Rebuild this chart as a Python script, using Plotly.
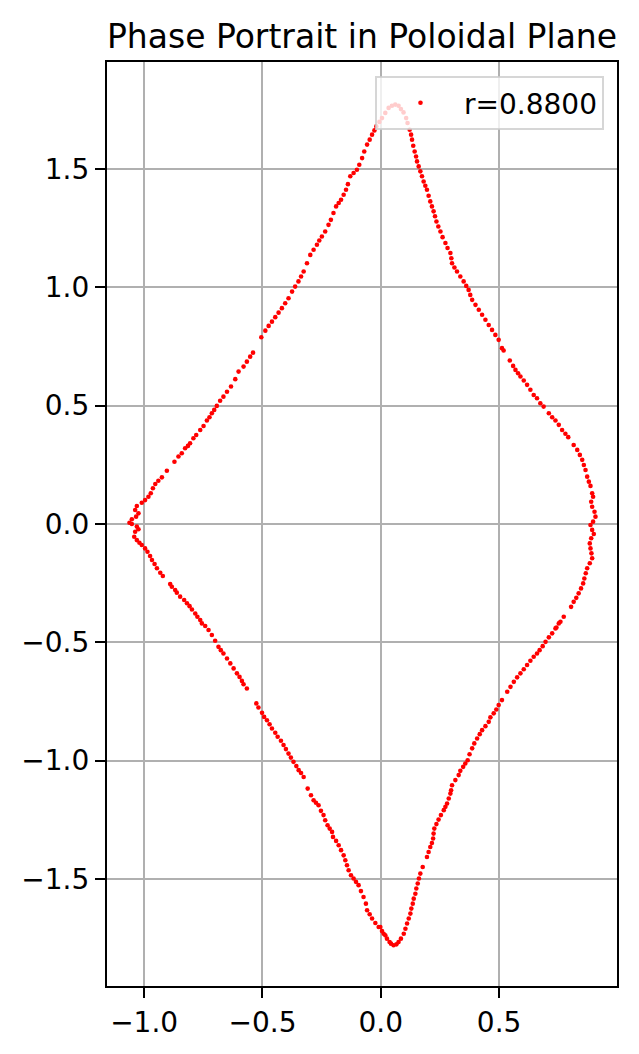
import plotly.graph_objects as go

# Points, traced around the closed curve
# upper-left branch up to the top tip, then down the upper-right branch
x_upper = [
    -0.505, -0.488, -0.474, -0.460, -0.446, -0.432, -0.418, -0.404, -0.390, -0.375,
    -0.362, -0.348, -0.337, -0.326, -0.312, -0.298, -0.284, -0.270, -0.260, -0.249,
    -0.235, -0.221, -0.211, -0.200, -0.189, -0.178, -0.168, -0.157, -0.147, -0.139,
    -0.129, -0.115, -0.101, -0.091, -0.079, -0.070, -0.058, -0.047, -0.037, -0.027,
    -0.019, -0.006, 0.005, 0.019, 0.033, 0.047, 0.061, 0.075, 0.085, 0.096,
    0.107, 0.113, 0.122,
    0.128, 0.132, 0.137, 0.143, 0.149, 0.153, 0.160, 0.167, 0.174, 0.181,
    0.188, 0.195, 0.202, 0.209, 0.216, 0.223, 0.229, 0.235, 0.243, 0.252,
    0.261, 0.273, 0.282, 0.294, 0.298, 0.301, 0.311, 0.322, 0.336, 0.350,
    0.361, 0.371, 0.378, 0.386, 0.400, 0.414, 0.428, 0.442, 0.456, 0.470,
    0.484, 0.498, 0.512,
]
y_upper = [
    0.789, 0.817, 0.837, 0.855, 0.874, 0.893, 0.912, 0.933, 0.954, 0.982,
    1.003, 1.025, 1.046, 1.067, 1.102, 1.137, 1.159, 1.180, 1.198, 1.215,
    1.236, 1.264, 1.285, 1.314, 1.342, 1.356, 1.370, 1.391, 1.412, 1.436,
    1.469, 1.483, 1.497, 1.518, 1.546, 1.574, 1.603, 1.624, 1.645, 1.663,
    1.680, 1.699, 1.715, 1.737, 1.758, 1.767, 1.772, 1.767, 1.753, 1.739,
    1.715, 1.694, 1.666,
    1.645, 1.624, 1.598, 1.574, 1.553, 1.532, 1.511, 1.490, 1.469, 1.447,
    1.429, 1.412, 1.387, 1.363, 1.342, 1.321, 1.300, 1.278, 1.257, 1.236,
    1.212, 1.187, 1.166, 1.145, 1.123, 1.102, 1.084, 1.067, 1.046, 1.025,
    1.006, 0.989, 0.968, 0.947, 0.926, 0.905, 0.884, 0.863, 0.841, 0.820,
    0.799, 0.778, 0.743,
]
# right side, top to bottom
x_right = [
    0.519, 0.545, 0.559, 0.569, 0.580, 0.590, 0.604, 0.618, 0.632, 0.646,
    0.660, 0.674, 0.688, 0.710, 0.724, 0.738, 0.752, 0.766, 0.780, 0.792,
    0.815, 0.830, 0.841, 0.851, 0.858, 0.865, 0.872, 0.879, 0.886, 0.893,
    0.897, 0.889, 0.893, 0.903, 0.907, 0.897, 0.886, 0.893, 0.900, 0.889,
    0.883, 0.886, 0.890, 0.893, 0.883, 0.872, 0.866, 0.860, 0.855, 0.846,
    0.836, 0.826, 0.815, 0.804, 0.773, 0.752, 0.738,
]
y_right = [
    0.733, 0.691, 0.668, 0.651, 0.637, 0.623, 0.606, 0.588, 0.567, 0.545,
    0.531, 0.510, 0.496, 0.468, 0.451, 0.437, 0.419, 0.397, 0.381, 0.367,
    0.334, 0.313, 0.292, 0.271, 0.249, 0.228, 0.200, 0.179, 0.161, 0.130,
    0.115, 0.094, 0.073, 0.052, 0.031, 0.010, -0.004, -0.025, -0.042, -0.060,
    -0.082, -0.103, -0.124, -0.145, -0.166, -0.187, -0.208, -0.230, -0.251, -0.272,
    -0.293, -0.312, -0.329, -0.350, -0.392, -0.420, -0.441,
]
# lower-right branch, down to the bottom tip
x_lower_right = [
    0.759, 0.742, 0.724, 0.710, 0.696, 0.684, 0.671, 0.660, 0.646, 0.632,
    0.618, 0.604, 0.590, 0.576, 0.562, 0.548, 0.534, 0.512, 0.498, 0.488,
    0.477, 0.463, 0.456, 0.442, 0.428, 0.418, 0.407, 0.395, 0.386, 0.375,
    0.367, 0.357, 0.348, 0.336, 0.329, 0.315, 0.301, 0.297, 0.294, 0.287,
    0.280, 0.273, 0.266, 0.254, 0.244, 0.235, 0.226, 0.223, 0.221, 0.216,
    0.209, 0.202, 0.195, 0.177, 0.167, 0.161, 0.156, 0.150, 0.146, 0.139,
    0.135, 0.129, 0.125, 0.118, 0.111, 0.104, 0.097, 0.085, 0.075, 0.066,
    0.054, 0.043, 0.026, 0.012, -0.002,
]
y_lower_right = [
    -0.413, -0.437, -0.462, -0.479, -0.498, -0.516, -0.533, -0.547, -0.561, -0.578,
    -0.596, -0.614, -0.631, -0.648, -0.667, -0.688, -0.709, -0.744, -0.765, -0.784,
    -0.800, -0.817, -0.836, -0.854, -0.871, -0.888, -0.906, -0.927, -0.948, -0.973,
    -0.998, -1.012, -1.026, -1.043, -1.061, -1.082, -1.104, -1.125, -1.139, -1.160,
    -1.181, -1.195, -1.209, -1.230, -1.249, -1.268, -1.287, -1.308, -1.329, -1.348,
    -1.365, -1.386, -1.407, -1.449, -1.477, -1.498, -1.519, -1.540, -1.562, -1.583,
    -1.604, -1.625, -1.646, -1.667, -1.688, -1.710, -1.731, -1.752, -1.766, -1.776,
    -1.780, -1.773, -1.752, -1.731, -1.703,
]
# lower-left branch, bottom tip up to the left side
x_lower_left = [
    0.037, 0.019, 0.005, -0.009, -0.023, -0.037, -0.047, -0.058, -0.063, -0.073,
    -0.084, -0.094, -0.105, -0.115, -0.126, -0.136, -0.143, -0.150, -0.157, -0.168,
    -0.178, -0.189, -0.202, -0.206, -0.216, -0.225, -0.235, -0.242, -0.253, -0.263,
    -0.274, -0.284, -0.295, -0.309, -0.326, -0.337, -0.347, -0.357, -0.369, -0.380,
    -0.390, -0.401, -0.411, -0.422, -0.436, -0.446, -0.460, -0.470, -0.481, -0.493,
    -0.502, -0.517, -0.526, -0.566, -0.580, -0.587, -0.597, -0.608, -0.622, -0.636,
    -0.650, -0.665, -0.676, -0.686, -0.700, -0.714, -0.728, -0.742, -0.756,
]
y_lower_left = [
    -1.766, -1.738, -1.720, -1.703, -1.686, -1.667, -1.649, -1.632, -1.604, -1.576,
    -1.551, -1.526, -1.512, -1.498, -1.484, -1.463, -1.442, -1.421, -1.400, -1.378,
    -1.357, -1.339, -1.322, -1.301, -1.287, -1.273, -1.252, -1.230, -1.212, -1.188,
    -1.178, -1.167, -1.146, -1.118, -1.069, -1.052, -1.040, -1.023, -1.005, -0.987,
    -0.970, -0.951, -0.934, -0.916, -0.899, -0.882, -0.864, -0.846, -0.829, -0.815,
    -0.798, -0.775, -0.758, -0.695, -0.677, -0.663, -0.646, -0.631, -0.610, -0.589,
    -0.568, -0.547, -0.533, -0.519, -0.493, -0.469, -0.448, -0.431, -0.420,
]
# left side, bottom to top
x_left = [
    -0.763, -0.775, -0.784, -0.798, -0.808, -0.819, -0.831, -0.848, -0.862, -0.869,
    -0.883, -0.890, -0.921, -0.932, -0.946, -0.956, -0.967, -0.975, -0.986, -0.996,
    -1.010, -1.020, -1.031, -1.042, -1.038, -1.024, -1.031, -1.052, -1.062, -1.052,
    -1.034, -1.024, -1.038, -1.031, -1.010, -0.996, -0.982, -0.972, -0.963, -0.953,
    -0.940, -0.925, -0.904, -0.872, -0.855, -0.841, -0.827, -0.815, -0.806, -0.792,
    -0.780, -0.763, -0.749, -0.735, -0.724, -0.714, -0.704, -0.693, -0.679, -0.665,
    -0.650, -0.633, -0.615, -0.601, -0.580, -0.566, -0.552, -0.540,
]
y_left = [
    -0.406, -0.392, -0.378, -0.361, -0.347, -0.335, -0.321, -0.307, -0.290, -0.279,
    -0.265, -0.254, -0.220, -0.206, -0.187, -0.169, -0.152, -0.135, -0.117, -0.103,
    -0.089, -0.079, -0.068, -0.054, -0.033, -0.022, -0.011, 0.000, 0.005, 0.020,
    0.031, 0.045, 0.059, 0.076, 0.090, 0.101, 0.115, 0.130, 0.151, 0.169,
    0.183, 0.197, 0.225, 0.263, 0.285, 0.299, 0.320, 0.330, 0.341, 0.362,
    0.376, 0.397, 0.414, 0.437, 0.451, 0.468, 0.482, 0.499, 0.521, 0.538,
    0.559, 0.581, 0.612, 0.644, 0.665, 0.686, 0.707, 0.724,
]

x_vals = x_upper + x_right + x_lower_right + x_lower_left + x_left
y_vals = y_upper + y_right + y_lower_right + y_lower_left + y_left

x_ticks = [-1.0, -0.5, 0.0, 0.5]
x_tick_text = ["\u22121.0", "\u22120.5", "0.0", "0.5"]
y_ticks = [-1.5, -1.0, -0.5, 0.0, 0.5, 1.0, 1.5]
y_tick_text = ["\u22121.5", "\u22121.0", "\u22120.5", "0.0", "0.5", "1.0", "1.5"]

title_text = "Phase Portrait in Poloidal Plane"
legend_label = "r=0.8800"

FONT = "DejaVu Sans"
W, H = 639, 1054
ML, MR, MT, MB = 107, 22, 62, 68

fig = go.Figure()
fig.add_trace(go.Scatter(
    x=x_vals, y=y_vals, mode="markers", name=legend_label,
    marker=dict(color="red", size=4.6, line=dict(width=0)),
    showlegend=True,
))

axis_common = dict(
    showgrid=True, gridcolor="#b0b0b0", gridwidth=2.2,
    zeroline=False, showline=True, linecolor="black", linewidth=2.2,
    mirror=True, ticks="outside", ticklen=10, tickwidth=2.2, tickcolor="black",
    tickfont=dict(family=FONT, size=28, color="black"),
)

fig.update_layout(
    width=W, height=H, autosize=False,
    margin=dict(l=ML, r=MR, t=MT, b=MB, pad=0),
    paper_bgcolor="white", plot_bgcolor="white",
    font=dict(family=FONT, color="black"),
    title=dict(text=title_text, x=(ML + (W - ML - MR) / 2) / W, xanchor="center",
               y=1 - 48 / H, yanchor="bottom", yref="container",
               font=dict(family=FONT, size=33, color="black")),
    xaxis=dict(range=[-1.157, 0.998], tickvals=x_ticks, ticktext=x_tick_text, **axis_common),
    yaxis=dict(range=[-1.952, 1.952], tickvals=y_ticks, ticktext=y_tick_text, **axis_common),
    legend=dict(x=0.9745, y=0.9848, xanchor="right", yanchor="top",
                bgcolor="rgba(255,255,255,0.8)", bordercolor="rgba(204,204,204,0.8)",
                borderwidth=2, font=dict(family=FONT, size=28, color="black"),
                itemwidth=77),
    showlegend=True,
)

fig.write_html("out.html", config={"displayModeBar": False},
               post_script="document.body.style.margin='0';")
